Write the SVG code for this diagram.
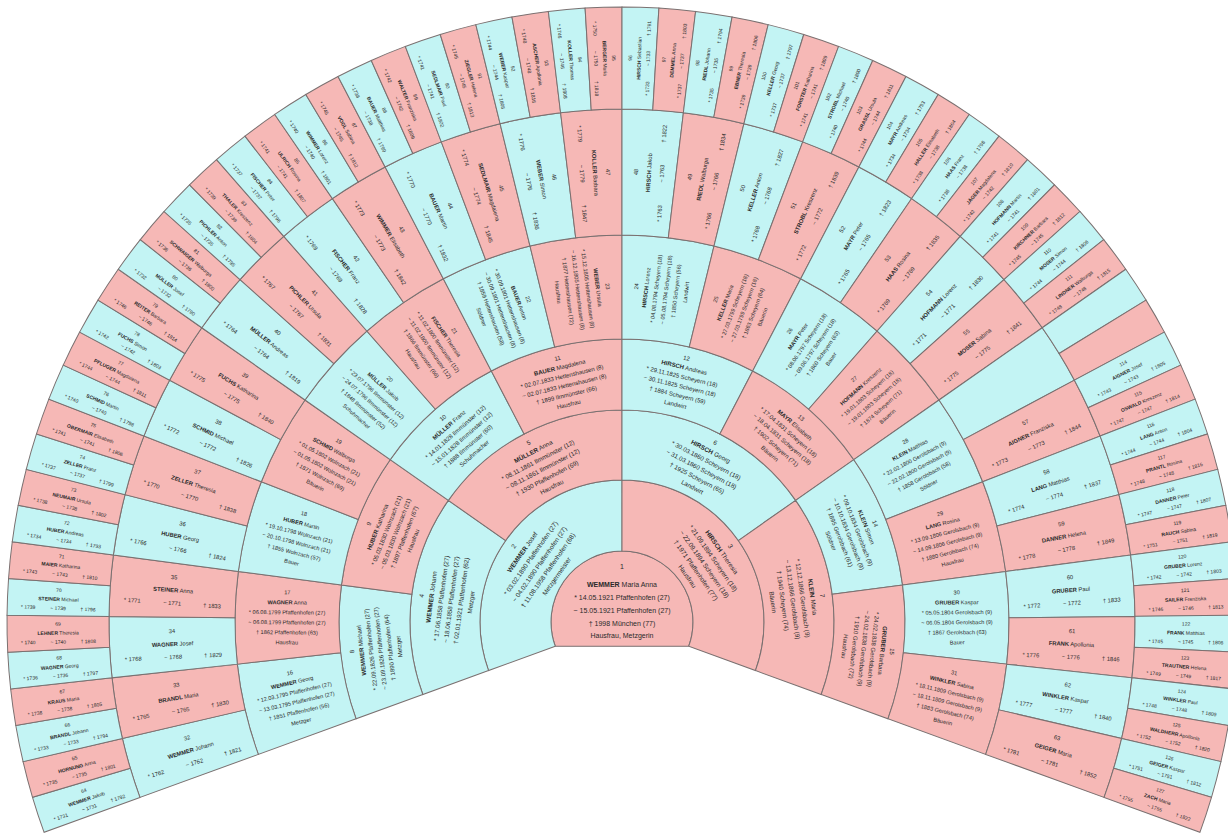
<svg xmlns="http://www.w3.org/2000/svg" xmlns:xlink="http://www.w3.org/1999/xlink" width="1228" height="835" viewBox="0 0 1228 835">
<style>
text{font-family:"Liberation Sans",Arial,sans-serif;text-anchor:middle;fill:#2a2a2a}
.b{font-weight:bold}
.m{fill:#C3F4F4}.f{fill:#F6B8B6}
use{stroke:#7a7070;stroke-width:1}
.a{font-size:7px}.k2{font-size:6.5px}.k3{font-size:6.3px}.k4{font-size:6px}
.r5{font-size:5.6px}.r6{font-size:5.8px}.r7{font-size:5px}
</style>
<defs>
<path id="c0" d="M-66.72,24.28 A71,71 0 1 1 66.72,24.28 Z"/>
<path id="c2" d="M-58.16,-40.72 L-116.32,-81.45 A142,142 0 0 1 116.32,-81.45 L58.16,-40.72 A71,71 0 0 0 -58.16,-40.72 Z"/>
<path id="c3" d="M-65.57,-125.96 L-97.89,-188.05 A212,212 0 0 1 97.89,-188.05 L65.57,-125.96 A142,142 0 0 0 -65.57,-125.96 Z"/>
<path id="c4" d="M-50.39,-205.92 L-67.26,-274.89 A283,283 0 0 1 67.26,-274.89 L50.39,-205.92 A212,212 0 0 0 -50.39,-205.92 Z"/>
<path id="c5" d="M-33.88,-280.97 L-46.33,-384.22 A387,387 0 0 1 46.33,-384.22 L33.88,-280.97 A283,283 0 0 0 -33.88,-280.97 Z"/>
<path id="c6" d="M-23.20,-386.30 L-30.76,-512.08 A513,513 0 0 1 30.76,-512.08 L23.20,-386.30 A387,387 0 0 0 -23.20,-386.30 Z"/>
<path id="c7" d="M-15.39,-512.77 L-18.45,-614.72 A615,615 0 0 1 18.45,-614.72 L15.39,-512.77 A513,513 0 0 0 -15.39,-512.77 Z"/>
</defs>
<rect width="1228" height="835" fill="#ffffff"/>
<g id="chart" transform="translate(622,622)">
<g id="p1"><use href="#c0" class="f"/><g class="a"><text y="-53">1</text><text y="-35"><tspan class="b">WEMMER</tspan> Maria Anna</text><text y="-22">* 14.05.1921 Pfaffenhofen (27)</text><text y="-9">~ 15.05.1921 Pfaffenhofen (27)</text><text y="4">† 1998 München (77)</text><text y="16">Hausfrau, Metzgerin</text></g></g>

<g id="p2" transform="rotate(-55)"><use href="#c2" class="m"/><g class="k2" transform="translate(0,-106)"><text y="-24">2</text><text y="-13.5"><tspan class="b">WEMMER</tspan> Josef</text><text y="-3">* 03.02.1890 Pfaffenhofen (27)</text><text y="7.5">~ 04.02.1890 Pfaffenhofen (27)</text><text y="18">† 11.08.1958 Pfaffenhofen (68)</text><text y="28.5">Metzgermeister</text></g></g>
<g id="p3" transform="rotate(55)"><use href="#c2" class="f"/><g class="k2" transform="translate(0,-106)"><text y="-24">3</text><text y="-13.5"><tspan class="b">HIRSCH</tspan> Theresia</text><text y="-3">* 21.09.1894 Scheyern (18)</text><text y="7.5">~ 22.09.1894 Scheyern (18)</text><text y="18">† 1971 Pfaffenhofen (77)</text><text y="28.5">Hausfrau</text></g></g>

<g id="p4" transform="rotate(-82.5)"><use href="#c3" class="m"/><g class="k3" transform="translate(0,-177)"><text y="-23">4</text><text y="-13"><tspan class="b">WEMMER</tspan> Johann</text><text y="-3">* 17.06.1858 Pfaffenhofen (27)</text><text y="7">~ 18.06.1858 Pfaffenhofen (27)</text><text y="17">† 02.01.1921 Pfaffenhofen (62)</text><text y="27">Metzger</text></g></g>
<g id="p5" transform="rotate(-27.5)"><use href="#c3" class="f"/><g class="k3" transform="translate(0,-177)"><text y="-23">5</text><text y="-13"><tspan class="b">MÜLLER</tspan> Anna</text><text y="-3">* 08.11.1861 Ilmmünster (12)</text><text y="7">~ 08.11.1861 Ilmmünster (12)</text><text y="17">† 1930 Pfaffenhofen (69)</text><text y="27">Hausfrau</text></g></g>
<g id="p6" transform="rotate(27.5)"><use href="#c3" class="m"/><g class="k3" transform="translate(0,-177)"><text y="-23">6</text><text y="-13"><tspan class="b">HIRSCH</tspan> Georg</text><text y="-3">* 30.03.1860 Scheyern (18)</text><text y="7">~ 31.03.1860 Scheyern (18)</text><text y="17">† 1925 Scheyern (65)</text><text y="27">Landwirt</text></g></g>
<g id="p7" transform="rotate(82.5)"><use href="#c3" class="f"/><g class="k3" transform="translate(0,-177)"><text y="-23">7</text><text y="-13"><tspan class="b">KLEIN</tspan> Maria</text><text y="-3">* 12.12.1866 Gerolsbach (9)</text><text y="7">~ 13.12.1866 Gerolsbach (9)</text><text y="17">† 1940 Scheyern (74)</text><text y="27">Bäuerin</text></g></g>

<g id="p8" transform="rotate(-96.25)"><use href="#c4" class="m"/><g class="k4" transform="translate(0,-247.5)"><text y="-22">8</text><text y="-12.5"><tspan class="b">WEMMER</tspan> Michael</text><text y="-3">* 22.09.1826 Pfaffenhofen (27)</text><text y="6.5">~ 23.09.1826 Pfaffenhofen (27)</text><text y="16">† 1890 Pfaffenhofen (64)</text><text y="25.5">Metzger</text></g></g>
<g id="p9" transform="rotate(-68.75)"><use href="#c4" class="f"/><g class="k4" transform="translate(0,-247.5)"><text y="-22">9</text><text y="-12.5"><tspan class="b">HUBER</tspan> Katharina</text><text y="-3">* 05.03.1830 Wolnzach (21)</text><text y="6.5">~ 05.03.1830 Wolnzach (21)</text><text y="16">† 1897 Pfaffenhofen (67)</text><text y="25.5">Hausfrau</text></g></g>
<g id="p10" transform="rotate(-41.25)"><use href="#c4" class="m"/><g class="k4" transform="translate(0,-247.5)"><text y="-22">10</text><text y="-12.5"><tspan class="b">MÜLLER</tspan> Franz</text><text y="-3">* 14.01.1828 Ilmmünster (12)</text><text y="6.5">~ 15.01.1828 Ilmmünster (12)</text><text y="16">† 1888 Ilmmünster (60)</text><text y="25.5">Schuhmacher</text></g></g>
<g id="p11" transform="rotate(-13.75)"><use href="#c4" class="f"/><g class="k4" transform="translate(0,-247.5)"><text y="-22">11</text><text y="-12.5"><tspan class="b">BAUER</tspan> Magdalena</text><text y="-3">* 02.07.1833 Hettenshausen (8)</text><text y="6.5">~ 02.07.1833 Hettenshausen (8)</text><text y="16">† 1899 Ilmmünster (66)</text><text y="25.5">Hausfrau</text></g></g>
<g id="p12" transform="rotate(13.75)"><use href="#c4" class="m"/><g class="k4" transform="translate(0,-247.5)"><text y="-22">12</text><text y="-12.5"><tspan class="b">HIRSCH</tspan> Andreas</text><text y="-3">* 29.11.1825 Scheyern (18)</text><text y="6.5">~ 30.11.1825 Scheyern (18)</text><text y="16">† 1884 Scheyern (59)</text><text y="25.5">Landwirt</text></g></g>
<g id="p13" transform="rotate(41.25)"><use href="#c4" class="f"/><g class="k4" transform="translate(0,-247.5)"><text y="-22">13</text><text y="-12.5"><tspan class="b">MAYR</tspan> Elisabeth</text><text y="-3">* 17.04.1831 Scheyern (18)</text><text y="6.5">~ 18.04.1831 Scheyern (18)</text><text y="16">† 1902 Scheyern (71)</text><text y="25.5">Bäuerin</text></g></g>
<g id="p14" transform="rotate(68.75)"><use href="#c4" class="m"/><g class="k4" transform="translate(0,-247.5)"><text y="-22">14</text><text y="-12.5"><tspan class="b">KLEIN</tspan> Simon</text><text y="-3">* 09.10.1834 Gerolsbach (9)</text><text y="6.5">~ 10.10.1834 Gerolsbach (9)</text><text y="16">† 1895 Gerolsbach (61)</text><text y="25.5">Söldner</text></g></g>
<g id="p15" transform="rotate(96.25)"><use href="#c4" class="f"/><g class="k4" transform="translate(0,-247.5)"><text y="-22">15</text><text y="-12.5"><tspan class="b">GRUBER</tspan> Barbara</text><text y="-3">* 24.02.1838 Gerolsbach (9)</text><text y="6.5">~ 24.02.1838 Gerolsbach (9)</text><text y="16">† 1910 Gerolsbach (72)</text><text y="25.5">Hausfrau</text></g></g>

<g id="p16" transform="rotate(-103.125)"><use href="#c5" class="m"/><g class="r5" transform="translate(0,-335) rotate(90)"><text y="-24">16</text><text y="-14"><tspan class="b">WEMMER</tspan> Georg</text><text y="-4">* 12.03.1795 Pfaffenhofen (27)</text><text y="6">~ 13.03.1795 Pfaffenhofen (27)</text><text y="16">† 1851 Pfaffenhofen (56)</text><text y="26">Metzger</text></g></g>
<g id="p17" transform="rotate(-89.375)"><use href="#c5" class="f"/><g class="r5" transform="translate(0,-335) rotate(90)"><text y="-24">17</text><text y="-14"><tspan class="b">WAGNER</tspan> Anna</text><text y="-4">* 06.08.1799 Pfaffenhofen (27)</text><text y="6">~ 06.08.1799 Pfaffenhofen (27)</text><text y="16">† 1862 Pfaffenhofen (63)</text><text y="26">Hausfrau</text></g></g>
<g id="p18" transform="rotate(-75.625)"><use href="#c5" class="m"/><g class="r5" transform="translate(0,-335) rotate(90)"><text y="-24">18</text><text y="-14"><tspan class="b">HUBER</tspan> Martin</text><text y="-4">* 19.10.1798 Wolnzach (21)</text><text y="6">~ 20.10.1798 Wolnzach (21)</text><text y="16">† 1855 Wolnzach (57)</text><text y="26">Bauer</text></g></g>
<g id="p19" transform="rotate(-61.875)"><use href="#c5" class="f"/><g class="r5" transform="translate(0,-335) rotate(90)"><text y="-24">19</text><text y="-14"><tspan class="b">SCHMID</tspan> Walburga</text><text y="-4">* 01.05.1802 Wolnzach (21)</text><text y="6">~ 01.05.1802 Wolnzach (21)</text><text y="16">† 1871 Wolnzach (69)</text><text y="26">Bäuerin</text></g></g>
<g id="p20" transform="rotate(-48.125)"><use href="#c5" class="m"/><g class="r5" transform="translate(0,-335) rotate(90)"><text y="-24">20</text><text y="-14"><tspan class="b">MÜLLER</tspan> Jakob</text><text y="-4">* 23.07.1796 Ilmmünster (12)</text><text y="6">~ 24.07.1796 Ilmmünster (12)</text><text y="16">† 1848 Ilmmünster (52)</text><text y="26">Schuhmacher</text></g></g>
<g id="p21" transform="rotate(-34.375)"><use href="#c5" class="f"/><g class="r5" transform="translate(0,-335) rotate(90)"><text y="-24">21</text><text y="-14"><tspan class="b">FISCHER</tspan> Theresia</text><text y="-4">* 11.02.1800 Ilmmünster (12)</text><text y="6">~ 11.02.1800 Ilmmünster (12)</text><text y="16">† 1866 Ilmmünster (66)</text><text y="26">Hausfrau</text></g></g>
<g id="p22" transform="rotate(-20.625)"><use href="#c5" class="m"/><g class="r5" transform="translate(0,-335) rotate(90)"><text y="-24">22</text><text y="-14"><tspan class="b">BAUER</tspan> Anton</text><text y="-4">* 30.09.1801 Hettenshausen (8)</text><text y="6">~ 30.09.1801 Hettenshausen (8)</text><text y="16">† 1859 Hettenshausen (58)</text><text y="26">Söldner</text></g></g>
<g id="p23" transform="rotate(-6.875)"><use href="#c5" class="f"/><g class="r5" transform="translate(0,-335) rotate(90)"><text y="-24">23</text><text y="-14"><tspan class="b">WEBER</tspan> Ursula</text><text y="-4">* 15.12.1805 Hettenshausen (8)</text><text y="6">~ 16.12.1805 Hettenshausen (8)</text><text y="16">† 1877 Hettenshausen (72)</text><text y="26">Hausfrau</text></g></g>
<g id="p24" transform="rotate(6.875)"><use href="#c5" class="m"/><g class="r5" transform="translate(0,-335) rotate(-90)"><text y="-24">24</text><text y="-14"><tspan class="b">HIRSCH</tspan> Lorenz</text><text y="-4">* 04.08.1794 Scheyern (18)</text><text y="6">~ 05.08.1794 Scheyern (18)</text><text y="16">† 1850 Scheyern (56)</text><text y="26">Landwirt</text></g></g>
<g id="p25" transform="rotate(20.625)"><use href="#c5" class="f"/><g class="r5" transform="translate(0,-335) rotate(-90)"><text y="-24">25</text><text y="-14"><tspan class="b">KELLER</tspan> Maria</text><text y="-4">* 27.03.1799 Scheyern (18)</text><text y="6">~ 27.03.1799 Scheyern (18)</text><text y="16">† 1863 Scheyern (64)</text><text y="26">Bäuerin</text></g></g>
<g id="p26" transform="rotate(34.375)"><use href="#c5" class="m"/><g class="r5" transform="translate(0,-335) rotate(-90)"><text y="-24">26</text><text y="-14"><tspan class="b">MAYR</tspan> Peter</text><text y="-4">* 08.06.1797 Scheyern (18)</text><text y="6">~ 09.06.1797 Scheyern (18)</text><text y="16">† 1860 Scheyern (63)</text><text y="26">Bauer</text></g></g>
<g id="p27" transform="rotate(48.125)"><use href="#c5" class="f"/><g class="r5" transform="translate(0,-335) rotate(-90)"><text y="-24">27</text><text y="-14"><tspan class="b">HOFMANN</tspan> Kreszenz</text><text y="-4">* 19.01.1803 Scheyern (18)</text><text y="6">~ 19.01.1803 Scheyern (18)</text><text y="16">† 1874 Scheyern (71)</text><text y="26">Bäuerin</text></g></g>
<g id="p28" transform="rotate(61.875)"><use href="#c5" class="m"/><g class="r5" transform="translate(0,-335) rotate(-90)"><text y="-24">28</text><text y="-14"><tspan class="b">KLEIN</tspan> Matthias</text><text y="-4">* 22.02.1800 Gerolsbach (9)</text><text y="6">~ 22.02.1800 Gerolsbach (9)</text><text y="16">† 1858 Gerolsbach (58)</text><text y="26">Söldner</text></g></g>
<g id="p29" transform="rotate(75.625)"><use href="#c5" class="f"/><g class="r5" transform="translate(0,-335) rotate(-90)"><text y="-24">29</text><text y="-14"><tspan class="b">LANG</tspan> Rosina</text><text y="-4">* 13.09.1806 Gerolsbach (9)</text><text y="6">~ 14.09.1806 Gerolsbach (9)</text><text y="16">† 1880 Gerolsbach (74)</text><text y="26">Hausfrau</text></g></g>
<g id="p30" transform="rotate(89.375)"><use href="#c5" class="m"/><g class="r5" transform="translate(0,-335) rotate(-90)"><text y="-24">30</text><text y="-14"><tspan class="b">GRUBER</tspan> Kaspar</text><text y="-4">* 05.05.1804 Gerolsbach (9)</text><text y="6">~ 06.05.1804 Gerolsbach (9)</text><text y="16">† 1867 Gerolsbach (63)</text><text y="26">Bauer</text></g></g>
<g id="p31" transform="rotate(103.125)"><use href="#c5" class="f"/><g class="r5" transform="translate(0,-335) rotate(-90)"><text y="-24">31</text><text y="-14"><tspan class="b">WINKLER</tspan> Sabina</text><text y="-4">* 18.11.1809 Gerolsbach (9)</text><text y="6">~ 18.11.1809 Gerolsbach (9)</text><text y="16">† 1883 Gerolsbach (74)</text><text y="26">Bäuerin</text></g></g>

<g id="p32" transform="rotate(-106.5625)"><use href="#c6" class="m"/><g class="r6" transform="translate(0,-450) rotate(90)"><text y="-11">32</text><text y="2"><tspan class="b">WEMMER</tspan> Johann</text><text x="-40" y="15">* 1762</text><text y="15">~ 1762</text><text x="40" y="15">† 1821</text></g></g>
<g id="p33" transform="rotate(-99.6875)"><use href="#c6" class="f"/><g class="r6" transform="translate(0,-450) rotate(90)"><text y="-11">33</text><text y="2"><tspan class="b">BRANDL</tspan> Maria</text><text x="-40" y="15">* 1765</text><text y="15">~ 1765</text><text x="40" y="15">† 1830</text></g></g>
<g id="p34" transform="rotate(-92.8125)"><use href="#c6" class="m"/><g class="r6" transform="translate(0,-450) rotate(90)"><text y="-11">34</text><text y="2"><tspan class="b">WAGNER</tspan> Josef</text><text x="-40" y="15">* 1768</text><text y="15">~ 1768</text><text x="40" y="15">† 1829</text></g></g>
<g id="p35" transform="rotate(-85.9375)"><use href="#c6" class="f"/><g class="r6" transform="translate(0,-450) rotate(90)"><text y="-11">35</text><text y="2"><tspan class="b">STEINER</tspan> Anna</text><text x="-40" y="15">* 1771</text><text y="15">~ 1771</text><text x="40" y="15">† 1833</text></g></g>
<g id="p36" transform="rotate(-79.0625)"><use href="#c6" class="m"/><g class="r6" transform="translate(0,-450) rotate(90)"><text y="-11">36</text><text y="2"><tspan class="b">HUBER</tspan> Georg</text><text x="-40" y="15">* 1766</text><text y="15">~ 1766</text><text x="40" y="15">† 1824</text></g></g>
<g id="p37" transform="rotate(-72.1875)"><use href="#c6" class="f"/><g class="r6" transform="translate(0,-450) rotate(90)"><text y="-11">37</text><text y="2"><tspan class="b">ZELLER</tspan> Theresia</text><text x="-40" y="15">* 1770</text><text y="15">~ 1770</text><text x="40" y="15">† 1838</text></g></g>
<g id="p38" transform="rotate(-65.3125)"><use href="#c6" class="m"/><g class="r6" transform="translate(0,-450) rotate(90)"><text y="-11">38</text><text y="2"><tspan class="b">SCHMID</tspan> Michael</text><text x="-40" y="15">* 1772</text><text y="15">~ 1772</text><text x="40" y="15">† 1826</text></g></g>
<g id="p39" transform="rotate(-58.4375)"><use href="#c6" class="f"/><g class="r6" transform="translate(0,-450) rotate(90)"><text y="-11">39</text><text y="2"><tspan class="b">FUCHS</tspan> Katharina</text><text x="-40" y="15">* 1775</text><text y="15">~ 1775</text><text x="40" y="15">† 1840</text></g></g>
<g id="p40" transform="rotate(-51.5625)"><use href="#c6" class="m"/><g class="r6" transform="translate(0,-450) rotate(90)"><text y="-11">40</text><text y="2"><tspan class="b">MÜLLER</tspan> Andreas</text><text x="-40" y="15">* 1764</text><text y="15">~ 1764</text><text x="40" y="15">† 1819</text></g></g>
<g id="p41" transform="rotate(-44.6875)"><use href="#c6" class="f"/><g class="r6" transform="translate(0,-450) rotate(90)"><text y="-11">41</text><text y="2"><tspan class="b">PICHLER</tspan> Ursula</text><text x="-40" y="15">* 1767</text><text y="15">~ 1767</text><text x="40" y="15">† 1831</text></g></g>
<g id="p42" transform="rotate(-37.8125)"><use href="#c6" class="m"/><g class="r6" transform="translate(0,-450) rotate(90)"><text y="-11">42</text><text y="2"><tspan class="b">FISCHER</tspan> Franz</text><text x="-40" y="15">* 1769</text><text y="15">~ 1769</text><text x="40" y="15">† 1828</text></g></g>
<g id="p43" transform="rotate(-30.9375)"><use href="#c6" class="f"/><g class="r6" transform="translate(0,-450) rotate(90)"><text y="-11">43</text><text y="2"><tspan class="b">WIMMER</tspan> Elisabeth</text><text x="-40" y="15">* 1773</text><text y="15">~ 1773</text><text x="40" y="15">† 1842</text></g></g>
<g id="p44" transform="rotate(-24.0625)"><use href="#c6" class="m"/><g class="r6" transform="translate(0,-450) rotate(90)"><text y="-11">44</text><text y="2"><tspan class="b">BAUER</tspan> Martin</text><text x="-40" y="15">* 1770</text><text y="15">~ 1770</text><text x="40" y="15">† 1832</text></g></g>
<g id="p45" transform="rotate(-17.1875)"><use href="#c6" class="f"/><g class="r6" transform="translate(0,-450) rotate(90)"><text y="-11">45</text><text y="2"><tspan class="b">SEDLMAIR</tspan> Magdalena</text><text x="-40" y="15">* 1774</text><text y="15">~ 1774</text><text x="40" y="15">† 1845</text></g></g>
<g id="p46" transform="rotate(-10.3125)"><use href="#c6" class="m"/><g class="r6" transform="translate(0,-450) rotate(90)"><text y="-11">46</text><text y="2"><tspan class="b">WEBER</tspan> Simon</text><text x="-40" y="15">* 1776</text><text y="15">~ 1776</text><text x="40" y="15">† 1836</text></g></g>
<g id="p47" transform="rotate(-3.4375)"><use href="#c6" class="f"/><g class="r6" transform="translate(0,-450) rotate(90)"><text y="-11">47</text><text y="2"><tspan class="b">KOLLER</tspan> Barbara</text><text x="-40" y="15">* 1779</text><text y="15">~ 1779</text><text x="40" y="15">† 1847</text></g></g>
<g id="p48" transform="rotate(3.4375)"><use href="#c6" class="m"/><g class="r6" transform="translate(0,-450) rotate(-90)"><text y="-11">48</text><text y="2"><tspan class="b">HIRSCH</tspan> Jakob</text><text x="-40" y="15">* 1763</text><text y="15">~ 1763</text><text x="40" y="15">† 1822</text></g></g>
<g id="p49" transform="rotate(10.3125)"><use href="#c6" class="f"/><g class="r6" transform="translate(0,-450) rotate(-90)"><text y="-11">49</text><text y="2"><tspan class="b">RIEDL</tspan> Walburga</text><text x="-40" y="15">* 1766</text><text y="15">~ 1766</text><text x="40" y="15">† 1834</text></g></g>
<g id="p50" transform="rotate(17.1875)"><use href="#c6" class="m"/><g class="r6" transform="translate(0,-450) rotate(-90)"><text y="-11">50</text><text y="2"><tspan class="b">KELLER</tspan> Anton</text><text x="-40" y="15">* 1768</text><text y="15">~ 1768</text><text x="40" y="15">† 1827</text></g></g>
<g id="p51" transform="rotate(24.0625)"><use href="#c6" class="f"/><g class="r6" transform="translate(0,-450) rotate(-90)"><text y="-11">51</text><text y="2"><tspan class="b">STROBL</tspan> Kreszenz</text><text x="-40" y="15">* 1772</text><text y="15">~ 1772</text><text x="40" y="15">† 1839</text></g></g>
<g id="p52" transform="rotate(30.9375)"><use href="#c6" class="m"/><g class="r6" transform="translate(0,-450) rotate(-90)"><text y="-11">52</text><text y="2"><tspan class="b">MAYR</tspan> Peter</text><text x="-40" y="15">* 1765</text><text y="15">~ 1765</text><text x="40" y="15">† 1823</text></g></g>
<g id="p53" transform="rotate(37.8125)"><use href="#c6" class="f"/><g class="r6" transform="translate(0,-450) rotate(-90)"><text y="-11">53</text><text y="2"><tspan class="b">HAAS</tspan> Rosina</text><text x="-40" y="15">* 1769</text><text y="15">~ 1769</text><text x="40" y="15">† 1835</text></g></g>
<g id="p54" transform="rotate(44.6875)"><use href="#c6" class="m"/><g class="r6" transform="translate(0,-450) rotate(-90)"><text y="-11">54</text><text y="2"><tspan class="b">HOFMANN</tspan> Lorenz</text><text x="-40" y="15">* 1771</text><text y="15">~ 1771</text><text x="40" y="15">† 1830</text></g></g>
<g id="p55" transform="rotate(51.5625)"><use href="#c6" class="f"/><g class="r6" transform="translate(0,-450) rotate(-90)"><text y="-11">55</text><text y="2"><tspan class="b">MOSER</tspan> Sabina</text><text x="-40" y="15">* 1775</text><text y="15">~ 1775</text><text x="40" y="15">† 1841</text></g></g>
<g id="p56" transform="rotate(58.4375)"><use href="#c6" class="m"/></g>
<g id="p57" transform="rotate(65.3125)"><use href="#c6" class="f"/><g class="r6" transform="translate(0,-450) rotate(-90)"><text y="-11">57</text><text y="2"><tspan class="b">AIGNER</tspan> Franziska</text><text x="-40" y="15">* 1773</text><text y="15">~ 1773</text><text x="40" y="15">† 1844</text></g></g>
<g id="p58" transform="rotate(72.1875)"><use href="#c6" class="m"/><g class="r6" transform="translate(0,-450) rotate(-90)"><text y="-11">58</text><text y="2"><tspan class="b">LANG</tspan> Matthias</text><text x="-40" y="15">* 1774</text><text y="15">~ 1774</text><text x="40" y="15">† 1837</text></g></g>
<g id="p59" transform="rotate(79.0625)"><use href="#c6" class="f"/><g class="r6" transform="translate(0,-450) rotate(-90)"><text y="-11">59</text><text y="2"><tspan class="b">DANNER</tspan> Helena</text><text x="-40" y="15">* 1778</text><text y="15">~ 1778</text><text x="40" y="15">† 1849</text></g></g>
<g id="p60" transform="rotate(85.9375)"><use href="#c6" class="m"/><g class="r6" transform="translate(0,-450) rotate(-90)"><text y="-11">60</text><text y="2"><tspan class="b">GRUBER</tspan> Paul</text><text x="-40" y="15">* 1772</text><text y="15">~ 1772</text><text x="40" y="15">† 1833</text></g></g>
<g id="p61" transform="rotate(92.8125)"><use href="#c6" class="f"/><g class="r6" transform="translate(0,-450) rotate(-90)"><text y="-11">61</text><text y="2"><tspan class="b">FRANK</tspan> Apollonia</text><text x="-40" y="15">* 1776</text><text y="15">~ 1776</text><text x="40" y="15">† 1846</text></g></g>
<g id="p62" transform="rotate(99.6875)"><use href="#c6" class="m"/><g class="r6" transform="translate(0,-450) rotate(-90)"><text y="-11">62</text><text y="2"><tspan class="b">WINKLER</tspan> Kaspar</text><text x="-40" y="15">* 1777</text><text y="15">~ 1777</text><text x="40" y="15">† 1840</text></g></g>
<g id="p63" transform="rotate(106.5625)"><use href="#c6" class="f"/><g class="r6" transform="translate(0,-450) rotate(-90)"><text y="-11">63</text><text y="2"><tspan class="b">GEIGER</tspan> Maria</text><text x="-40" y="15">* 1781</text><text y="15">~ 1781</text><text x="40" y="15">† 1852</text></g></g>

<g id="p64" transform="rotate(-108.28)"><use href="#c7" class="m"/><g class="r7" transform="translate(0,-564) rotate(90)"><text y="-7">64</text><text y="2"><tspan class="b">WEMMER</tspan> Jakob</text><text x="-30" y="11">* 1731</text><text y="11">~ 1731</text><text x="30" y="11">† 1792</text></g></g>
<g id="p65" transform="rotate(-104.84)"><use href="#c7" class="f"/><g class="r7" transform="translate(0,-564) rotate(90)"><text y="-7">65</text><text y="2"><tspan class="b">HORNUNG</tspan> Anna</text><text x="-30" y="11">* 1735</text><text y="11">~ 1735</text><text x="30" y="11">† 1801</text></g></g>
<g id="p66" transform="rotate(-101.41)"><use href="#c7" class="m"/><g class="r7" transform="translate(0,-564) rotate(90)"><text y="-7">66</text><text y="2"><tspan class="b">BRANDL</tspan> Johann</text><text x="-30" y="11">* 1733</text><text y="11">~ 1733</text><text x="30" y="11">† 1794</text></g></g>
<g id="p67" transform="rotate(-97.97)"><use href="#c7" class="f"/><g class="r7" transform="translate(0,-564) rotate(90)"><text y="-7">67</text><text y="2"><tspan class="b">KRAUS</tspan> Maria</text><text x="-30" y="11">* 1738</text><text y="11">~ 1738</text><text x="30" y="11">† 1805</text></g></g>
<g id="p68" transform="rotate(-94.53)"><use href="#c7" class="m"/><g class="r7" transform="translate(0,-564) rotate(90)"><text y="-7">68</text><text y="2"><tspan class="b">WAGNER</tspan> Georg</text><text x="-30" y="11">* 1736</text><text y="11">~ 1736</text><text x="30" y="11">† 1797</text></g></g>
<g id="p69" transform="rotate(-91.09)"><use href="#c7" class="f"/><g class="r7" transform="translate(0,-564) rotate(90)"><text y="-7">69</text><text y="2"><tspan class="b">LEHNER</tspan> Theresia</text><text x="-30" y="11">* 1740</text><text y="11">~ 1740</text><text x="30" y="11">† 1808</text></g></g>
<g id="p70" transform="rotate(-87.66)"><use href="#c7" class="m"/><g class="r7" transform="translate(0,-564) rotate(90)"><text y="-7">70</text><text y="2"><tspan class="b">STEINER</tspan> Michael</text><text x="-30" y="11">* 1739</text><text y="11">~ 1739</text><text x="30" y="11">† 1796</text></g></g>
<g id="p71" transform="rotate(-84.22)"><use href="#c7" class="f"/><g class="r7" transform="translate(0,-564) rotate(90)"><text y="-7">71</text><text y="2"><tspan class="b">MAIER</tspan> Katharina</text><text x="-30" y="11">* 1743</text><text y="11">~ 1743</text><text x="30" y="11">† 1810</text></g></g>
<g id="p72" transform="rotate(-80.78)"><use href="#c7" class="m"/><g class="r7" transform="translate(0,-564) rotate(90)"><text y="-7">72</text><text y="2"><tspan class="b">HUBER</tspan> Andreas</text><text x="-30" y="11">* 1734</text><text y="11">~ 1734</text><text x="30" y="11">† 1793</text></g></g>
<g id="p73" transform="rotate(-77.34)"><use href="#c7" class="f"/><g class="r7" transform="translate(0,-564) rotate(90)"><text y="-7">73</text><text y="2"><tspan class="b">NEUMAIR</tspan> Ursula</text><text x="-30" y="11">* 1738</text><text y="11">~ 1738</text><text x="30" y="11">† 1802</text></g></g>
<g id="p74" transform="rotate(-73.91)"><use href="#c7" class="m"/><g class="r7" transform="translate(0,-564) rotate(90)"><text y="-7">74</text><text y="2"><tspan class="b">ZELLER</tspan> Franz</text><text x="-30" y="11">* 1737</text><text y="11">~ 1737</text><text x="30" y="11">† 1799</text></g></g>
<g id="p75" transform="rotate(-70.47)"><use href="#c7" class="f"/><g class="r7" transform="translate(0,-564) rotate(90)"><text y="-7">75</text><text y="2"><tspan class="b">OBERMAIR</tspan> Elisabeth</text><text x="-30" y="11">* 1741</text><text y="11">~ 1741</text><text x="30" y="11">† 1806</text></g></g>
<g id="p76" transform="rotate(-67.03)"><use href="#c7" class="m"/><g class="r7" transform="translate(0,-564) rotate(90)"><text y="-7">76</text><text y="2"><tspan class="b">SCHMID</tspan> Martin</text><text x="-30" y="11">* 1740</text><text y="11">~ 1740</text><text x="30" y="11">† 1798</text></g></g>
<g id="p77" transform="rotate(-63.59)"><use href="#c7" class="f"/><g class="r7" transform="translate(0,-564) rotate(90)"><text y="-7">77</text><text y="2"><tspan class="b">PFLUGER</tspan> Magdalena</text><text x="-30" y="11">* 1744</text><text y="11">~ 1744</text><text x="30" y="11">† 1811</text></g></g>
<g id="p78" transform="rotate(-60.16)"><use href="#c7" class="m"/><g class="r7" transform="translate(0,-564) rotate(90)"><text y="-7">78</text><text y="2"><tspan class="b">FUCHS</tspan> Simon</text><text x="-30" y="11">* 1742</text><text y="11">~ 1742</text><text x="30" y="11">† 1803</text></g></g>
<g id="p79" transform="rotate(-56.72)"><use href="#c7" class="f"/><g class="r7" transform="translate(0,-564) rotate(90)"><text y="-7">79</text><text y="2"><tspan class="b">REITER</tspan> Barbara</text><text x="-30" y="11">* 1746</text><text y="11">~ 1746</text><text x="30" y="11">† 1814</text></g></g>
<g id="p80" transform="rotate(-53.28)"><use href="#c7" class="m"/><g class="r7" transform="translate(0,-564) rotate(90)"><text y="-7">80</text><text y="2"><tspan class="b">MÜLLER</tspan> Josef</text><text x="-30" y="11">* 1732</text><text y="11">~ 1732</text><text x="30" y="11">† 1790</text></g></g>
<g id="p81" transform="rotate(-49.84)"><use href="#c7" class="f"/><g class="r7" transform="translate(0,-564) rotate(90)"><text y="-7">81</text><text y="2"><tspan class="b">SCHWAIGER</tspan> Walburga</text><text x="-30" y="11">* 1736</text><text y="11">~ 1736</text><text x="30" y="11">† 1800</text></g></g>
<g id="p82" transform="rotate(-46.41)"><use href="#c7" class="m"/><g class="r7" transform="translate(0,-564) rotate(90)"><text y="-7">82</text><text y="2"><tspan class="b">PICHLER</tspan> Anton</text><text x="-30" y="11">* 1735</text><text y="11">~ 1735</text><text x="30" y="11">† 1795</text></g></g>
<g id="p83" transform="rotate(-42.97)"><use href="#c7" class="f"/><g class="r7" transform="translate(0,-564) rotate(90)"><text y="-7">83</text><text y="2"><tspan class="b">THALER</tspan> Kreszenz</text><text x="-30" y="11">* 1739</text><text y="11">~ 1739</text><text x="30" y="11">† 1804</text></g></g>
<g id="p84" transform="rotate(-39.53)"><use href="#c7" class="m"/><g class="r7" transform="translate(0,-564) rotate(90)"><text y="-7">84</text><text y="2"><tspan class="b">FISCHER</tspan> Peter</text><text x="-30" y="11">* 1737</text><text y="11">~ 1737</text><text x="30" y="11">† 1796</text></g></g>
<g id="p85" transform="rotate(-36.09)"><use href="#c7" class="f"/><g class="r7" transform="translate(0,-564) rotate(90)"><text y="-7">85</text><text y="2"><tspan class="b">ULRICH</tspan> Rosina</text><text x="-30" y="11">* 1741</text><text y="11">~ 1741</text><text x="30" y="11">† 1807</text></g></g>
<g id="p86" transform="rotate(-32.66)"><use href="#c7" class="m"/><g class="r7" transform="translate(0,-564) rotate(90)"><text y="-7">86</text><text y="2"><tspan class="b">WIMMER</tspan> Lorenz</text><text x="-30" y="11">* 1740</text><text y="11">~ 1740</text><text x="30" y="11">† 1801</text></g></g>
<g id="p87" transform="rotate(-29.22)"><use href="#c7" class="f"/><g class="r7" transform="translate(0,-564) rotate(90)"><text y="-7">87</text><text y="2"><tspan class="b">VOGL</tspan> Sabina</text><text x="-30" y="11">* 1745</text><text y="11">~ 1745</text><text x="30" y="11">† 1812</text></g></g>
<g id="p88" transform="rotate(-25.78)"><use href="#c7" class="m"/><g class="r7" transform="translate(0,-564) rotate(90)"><text y="-7">88</text><text y="2"><tspan class="b">BAUER</tspan> Matthias</text><text x="-30" y="11">* 1738</text><text y="11">~ 1738</text><text x="30" y="11">† 1799</text></g></g>
<g id="p89" transform="rotate(-22.34)"><use href="#c7" class="f"/><g class="r7" transform="translate(0,-564) rotate(90)"><text y="-7">89</text><text y="2"><tspan class="b">WALTER</tspan> Franziska</text><text x="-30" y="11">* 1742</text><text y="11">~ 1742</text><text x="30" y="11">† 1809</text></g></g>
<g id="p90" transform="rotate(-18.91)"><use href="#c7" class="m"/><g class="r7" transform="translate(0,-564) rotate(90)"><text y="-7">90</text><text y="2"><tspan class="b">SEDLMAIR</tspan> Paul</text><text x="-30" y="11">* 1741</text><text y="11">~ 1741</text><text x="30" y="11">† 1802</text></g></g>
<g id="p91" transform="rotate(-15.47)"><use href="#c7" class="f"/><g class="r7" transform="translate(0,-564) rotate(90)"><text y="-7">91</text><text y="2"><tspan class="b">ZIEGLER</tspan> Helena</text><text x="-30" y="11">* 1745</text><text y="11">~ 1745</text><text x="30" y="11">† 1813</text></g></g>
<g id="p92" transform="rotate(-12.03)"><use href="#c7" class="m"/><g class="r7" transform="translate(0,-564) rotate(90)"><text y="-7">92</text><text y="2"><tspan class="b">WEBER</tspan> Kaspar</text><text x="-30" y="11">* 1744</text><text y="11">~ 1744</text><text x="30" y="11">† 1805</text></g></g>
<g id="p93" transform="rotate(-8.59)"><use href="#c7" class="f"/><g class="r7" transform="translate(0,-564) rotate(90)"><text y="-7">93</text><text y="2"><tspan class="b">ASCHER</tspan> Apollonia</text><text x="-30" y="11">* 1748</text><text y="11">~ 1748</text><text x="30" y="11">† 1816</text></g></g>
<g id="p94" transform="rotate(-5.16)"><use href="#c7" class="m"/><g class="r7" transform="translate(0,-564) rotate(90)"><text y="-7">94</text><text y="2"><tspan class="b">KOLLER</tspan> Thomas</text><text x="-30" y="11">* 1746</text><text y="11">~ 1746</text><text x="30" y="11">† 1808</text></g></g>
<g id="p95" transform="rotate(-1.72)"><use href="#c7" class="f"/><g class="r7" transform="translate(0,-564) rotate(90)"><text y="-7">95</text><text y="2"><tspan class="b">BERGER</tspan> Maria</text><text x="-30" y="11">* 1750</text><text y="11">~ 1750</text><text x="30" y="11">† 1818</text></g></g>
<g id="p96" transform="rotate(1.72)"><use href="#c7" class="m"/><g class="r7" transform="translate(0,-564) rotate(-90)"><text y="-7">96</text><text y="2"><tspan class="b">HIRSCH</tspan> Sebastian</text><text x="-30" y="11">* 1733</text><text y="11">~ 1733</text><text x="30" y="11">† 1791</text></g></g>
<g id="p97" transform="rotate(5.16)"><use href="#c7" class="f"/><g class="r7" transform="translate(0,-564) rotate(-90)"><text y="-7">97</text><text y="2"><tspan class="b">DEMMEL</tspan> Anna</text><text x="-30" y="11">* 1737</text><text y="11">~ 1737</text><text x="30" y="11">† 1803</text></g></g>
<g id="p98" transform="rotate(8.59)"><use href="#c7" class="m"/><g class="r7" transform="translate(0,-564) rotate(-90)"><text y="-7">98</text><text y="2"><tspan class="b">RIEDL</tspan> Johann</text><text x="-30" y="11">* 1735</text><text y="11">~ 1735</text><text x="30" y="11">† 1794</text></g></g>
<g id="p99" transform="rotate(12.03)"><use href="#c7" class="f"/><g class="r7" transform="translate(0,-564) rotate(-90)"><text y="-7">99</text><text y="2"><tspan class="b">EBNER</tspan> Theresia</text><text x="-30" y="11">* 1739</text><text y="11">~ 1739</text><text x="30" y="11">† 1806</text></g></g>
<g id="p100" transform="rotate(15.47)"><use href="#c7" class="m"/><g class="r7" transform="translate(0,-564) rotate(-90)"><text y="-7">100</text><text y="2"><tspan class="b">KELLER</tspan> Georg</text><text x="-30" y="11">* 1737</text><text y="11">~ 1737</text><text x="30" y="11">† 1797</text></g></g>
<g id="p101" transform="rotate(18.91)"><use href="#c7" class="f"/><g class="r7" transform="translate(0,-564) rotate(-90)"><text y="-7">101</text><text y="2"><tspan class="b">FORSTER</tspan> Katharina</text><text x="-30" y="11">* 1741</text><text y="11">~ 1741</text><text x="30" y="11">† 1809</text></g></g>
<g id="p102" transform="rotate(22.34)"><use href="#c7" class="m"/><g class="r7" transform="translate(0,-564) rotate(-90)"><text y="-7">102</text><text y="2"><tspan class="b">STROBL</tspan> Michael</text><text x="-30" y="11">* 1740</text><text y="11">~ 1740</text><text x="30" y="11">† 1800</text></g></g>
<g id="p103" transform="rotate(25.78)"><use href="#c7" class="f"/><g class="r7" transform="translate(0,-564) rotate(-90)"><text y="-7">103</text><text y="2"><tspan class="b">GRASSL</tspan> Ursula</text><text x="-30" y="11">* 1744</text><text y="11">~ 1744</text><text x="30" y="11">† 1811</text></g></g>
<g id="p104" transform="rotate(29.22)"><use href="#c7" class="m"/><g class="r7" transform="translate(0,-564) rotate(-90)"><text y="-7">104</text><text y="2"><tspan class="b">MAYR</tspan> Andreas</text><text x="-30" y="11">* 1734</text><text y="11">~ 1734</text><text x="30" y="11">† 1793</text></g></g>
<g id="p105" transform="rotate(32.66)"><use href="#c7" class="f"/><g class="r7" transform="translate(0,-564) rotate(-90)"><text y="-7">105</text><text y="2"><tspan class="b">HALLER</tspan> Elisabeth</text><text x="-30" y="11">* 1738</text><text y="11">~ 1738</text><text x="30" y="11">† 1804</text></g></g>
<g id="p106" transform="rotate(36.09)"><use href="#c7" class="m"/><g class="r7" transform="translate(0,-564) rotate(-90)"><text y="-7">106</text><text y="2"><tspan class="b">HAAS</tspan> Franz</text><text x="-30" y="11">* 1738</text><text y="11">~ 1738</text><text x="30" y="11">† 1798</text></g></g>
<g id="p107" transform="rotate(39.53)"><use href="#c7" class="f"/><g class="r7" transform="translate(0,-564) rotate(-90)"><text y="-7">107</text><text y="2"><tspan class="b">JÄGER</tspan> Magdalena</text><text x="-30" y="11">* 1742</text><text y="11">~ 1742</text><text x="30" y="11">† 1810</text></g></g>
<g id="p108" transform="rotate(42.97)"><use href="#c7" class="m"/><g class="r7" transform="translate(0,-564) rotate(-90)"><text y="-7">108</text><text y="2"><tspan class="b">HOFMANN</tspan> Martin</text><text x="-30" y="11">* 1741</text><text y="11">~ 1741</text><text x="30" y="11">† 1801</text></g></g>
<g id="p109" transform="rotate(46.41)"><use href="#c7" class="f"/><g class="r7" transform="translate(0,-564) rotate(-90)"><text y="-7">109</text><text y="2"><tspan class="b">KIRCHNER</tspan> Barbara</text><text x="-30" y="11">* 1745</text><text y="11">~ 1745</text><text x="30" y="11">† 1812</text></g></g>
<g id="p110" transform="rotate(49.84)"><use href="#c7" class="m"/><g class="r7" transform="translate(0,-564) rotate(-90)"><text y="-7">110</text><text y="2"><tspan class="b">MOSER</tspan> Simon</text><text x="-30" y="11">* 1744</text><text y="11">~ 1744</text><text x="30" y="11">† 1806</text></g></g>
<g id="p111" transform="rotate(53.28)"><use href="#c7" class="f"/><g class="r7" transform="translate(0,-564) rotate(-90)"><text y="-7">111</text><text y="2"><tspan class="b">LINDNER</tspan> Walburga</text><text x="-30" y="11">* 1748</text><text y="11">~ 1748</text><text x="30" y="11">† 1815</text></g></g>
<g id="p112" transform="rotate(56.72)"><use href="#c7" class="m"/></g>
<g id="p113" transform="rotate(60.16)"><use href="#c7" class="f"/></g>
<g id="p114" transform="rotate(63.59)"><use href="#c7" class="m"/><g class="r7" transform="translate(0,-564) rotate(-90)"><text y="-7">114</text><text y="2"><tspan class="b">AIGNER</tspan> Josef</text><text x="-30" y="11">* 1743</text><text y="11">~ 1743</text><text x="30" y="11">† 1805</text></g></g>
<g id="p115" transform="rotate(67.03)"><use href="#c7" class="f"/><g class="r7" transform="translate(0,-564) rotate(-90)"><text y="-7">115</text><text y="2"><tspan class="b">OSWALD</tspan> Kreszenz</text><text x="-30" y="11">* 1747</text><text y="11">~ 1747</text><text x="30" y="11">† 1814</text></g></g>
<g id="p116" transform="rotate(70.47)"><use href="#c7" class="m"/><g class="r7" transform="translate(0,-564) rotate(-90)"><text y="-7">116</text><text y="2"><tspan class="b">LANG</tspan> Anton</text><text x="-30" y="11">* 1744</text><text y="11">~ 1744</text><text x="30" y="11">† 1804</text></g></g>
<g id="p117" transform="rotate(73.91)"><use href="#c7" class="f"/><g class="r7" transform="translate(0,-564) rotate(-90)"><text y="-7">117</text><text y="2"><tspan class="b">PRANTL</tspan> Rosina</text><text x="-30" y="11">* 1748</text><text y="11">~ 1748</text><text x="30" y="11">† 1816</text></g></g>
<g id="p118" transform="rotate(77.34)"><use href="#c7" class="m"/><g class="r7" transform="translate(0,-564) rotate(-90)"><text y="-7">118</text><text y="2"><tspan class="b">DANNER</tspan> Peter</text><text x="-30" y="11">* 1747</text><text y="11">~ 1747</text><text x="30" y="11">† 1807</text></g></g>
<g id="p119" transform="rotate(80.78)"><use href="#c7" class="f"/><g class="r7" transform="translate(0,-564) rotate(-90)"><text y="-7">119</text><text y="2"><tspan class="b">RAUCH</tspan> Sabina</text><text x="-30" y="11">* 1751</text><text y="11">~ 1751</text><text x="30" y="11">† 1819</text></g></g>
<g id="p120" transform="rotate(84.22)"><use href="#c7" class="m"/><g class="r7" transform="translate(0,-564) rotate(-90)"><text y="-7">120</text><text y="2"><tspan class="b">GRUBER</tspan> Lorenz</text><text x="-30" y="11">* 1742</text><text y="11">~ 1742</text><text x="30" y="11">† 1803</text></g></g>
<g id="p121" transform="rotate(87.66)"><use href="#c7" class="f"/><g class="r7" transform="translate(0,-564) rotate(-90)"><text y="-7">121</text><text y="2"><tspan class="b">SAILER</tspan> Franziska</text><text x="-30" y="11">* 1746</text><text y="11">~ 1746</text><text x="30" y="11">† 1813</text></g></g>
<g id="p122" transform="rotate(91.09)"><use href="#c7" class="m"/><g class="r7" transform="translate(0,-564) rotate(-90)"><text y="-7">122</text><text y="2"><tspan class="b">FRANK</tspan> Matthias</text><text x="-30" y="11">* 1745</text><text y="11">~ 1745</text><text x="30" y="11">† 1806</text></g></g>
<g id="p123" transform="rotate(94.53)"><use href="#c7" class="f"/><g class="r7" transform="translate(0,-564) rotate(-90)"><text y="-7">123</text><text y="2"><tspan class="b">TRAUTNER</tspan> Helena</text><text x="-30" y="11">* 1749</text><text y="11">~ 1749</text><text x="30" y="11">† 1817</text></g></g>
<g id="p124" transform="rotate(97.97)"><use href="#c7" class="m"/><g class="r7" transform="translate(0,-564) rotate(-90)"><text y="-7">124</text><text y="2"><tspan class="b">WINKLER</tspan> Paul</text><text x="-30" y="11">* 1748</text><text y="11">~ 1748</text><text x="30" y="11">† 1809</text></g></g>
<g id="p125" transform="rotate(101.41)"><use href="#c7" class="f"/><g class="r7" transform="translate(0,-564) rotate(-90)"><text y="-7">125</text><text y="2"><tspan class="b">WALDHERR</tspan> Apollonia</text><text x="-30" y="11">* 1752</text><text y="11">~ 1752</text><text x="30" y="11">† 1820</text></g></g>
<g id="p126" transform="rotate(104.84)"><use href="#c7" class="m"/><g class="r7" transform="translate(0,-564) rotate(-90)"><text y="-7">126</text><text y="2"><tspan class="b">GEIGER</tspan> Kaspar</text><text x="-30" y="11">* 1751</text><text y="11">~ 1751</text><text x="30" y="11">† 1812</text></g></g>
<g id="p127" transform="rotate(108.28)"><use href="#c7" class="f"/><g class="r7" transform="translate(0,-564) rotate(-90)"><text y="-7">127</text><text y="2"><tspan class="b">ZACH</tspan> Maria</text><text x="-30" y="11">* 1755</text><text y="11">~ 1755</text><text x="30" y="11">† 1822</text></g></g>
</g>
<g id="connectors"/>
</svg>
